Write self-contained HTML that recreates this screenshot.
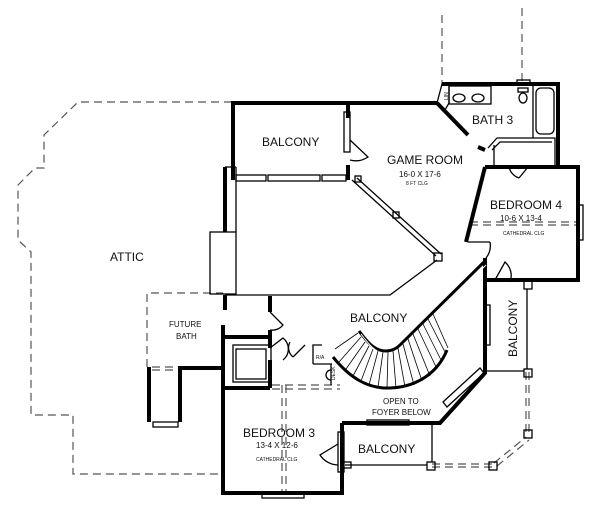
<!DOCTYPE html>
<html><head><style>
html,body{margin:0;padding:0;background:#fff;}
svg{display:block;}
text{font-family:"Liberation Sans",sans-serif;fill:#111;}
</style></head><body>
<svg width="600" height="515" viewBox="0 0 600 515" xmlns="http://www.w3.org/2000/svg">
<g fill="none" stroke="#555" stroke-width="1.2" stroke-dasharray="8,5">
<polyline points="232,102 78,102 44,135 44,168 35,168 18,185 18,240 31,252 31,415 73,415 73,474 223,474"/>
<polyline points="147,367 147,293 223,293"/>
<line x1="442" y1="15" x2="442" y2="84"/>
<line x1="522" y1="8" x2="522" y2="82"/>
<line x1="152" y1="367" x2="178" y2="367"/>
<line x1="152" y1="370" x2="178" y2="370"/>
<line x1="282" y1="385" x2="282" y2="493"/>
<line x1="286" y1="385" x2="286" y2="493"/>
<line x1="272" y1="385" x2="340" y2="385"/>
<line x1="272" y1="389" x2="340" y2="389"/>
<line x1="470" y1="222" x2="578" y2="222"/>
<line x1="470" y1="225" x2="578" y2="225"/>
<line x1="432" y1="464" x2="492" y2="464"/>
<line x1="432" y1="467" x2="492" y2="467"/>
<line x1="526" y1="372" x2="526" y2="432"/>
<line x1="529" y1="372" x2="529" y2="432"/>
<line x1="494" y1="463" x2="526" y2="437"/>
<line x1="497" y1="466" x2="529" y2="440"/>
</g>
<g fill="none" stroke="#000" stroke-width="4" stroke-linejoin="miter">
<polyline points="233,180 233,103 437,103"/>
<line x1="348" y1="103" x2="348" y2="118"/>
<line x1="348" y1="165" x2="348" y2="180"/>
<polyline points="442,84 558,84 558,167"/>
<polyline points="437,103 468,135"/>
<polyline points="478,147 485,150"/>
<polyline points="485,167 578,167 578,280 490,280"/>
<polyline points="485,167 466,242"/>
<polyline points="225,167 225,232"/>
<polyline points="225,295 225,310"/>
<polyline points="223,325 223,493 342,493 342,423"/>
<polyline points="342,423 440,423 485,373 485,258"/>
<polyline points="223,337 270,337"/>
<polyline points="223,388 270,388"/>
<polyline points="270,296 270,312"/>
<polyline points="270,330 270,348"/>
<polyline points="270,360 270,388"/>
<polyline points="149,422 149,367"/>
<polyline points="180,422 180,368 223,368"/>
<line x1="485" y1="280" x2="490" y2="280"/>
</g>
<path d="M333,357 C350,378 368,389 390,388 C418,387 438,372 447,350" fill="none" stroke="#000" stroke-width="3"/>
<path d="M359,331 C368,343 375,351 386,351 C392,351 396,349 400,345 L484,262" fill="none" stroke="#000" stroke-width="3"/>
<path d="M361,334 C370,346 377,354 388,354 C394,354 398,352 402,348 L486,265" fill="none" stroke="#fff" stroke-width="1"/>
<g stroke="#000" stroke-width="0.8">
<line x1="358" y1="333" x2="335" y2="349"/>
<line x1="361" y1="337" x2="339" y2="362"/><line x1="365" y1="342" x2="346" y2="369"/>
<line x1="369" y1="346" x2="353" y2="376"/><line x1="373" y1="349" x2="361" y2="381"/>
<line x1="378" y1="351" x2="369" y2="385"/><line x1="383" y1="352" x2="378" y2="387"/>
<line x1="388" y1="352" x2="387" y2="388"/><line x1="393" y1="351" x2="396" y2="388"/>
<line x1="398" y1="348" x2="405" y2="387"/><line x1="403" y1="344" x2="414" y2="385"/>
<line x1="408" y1="339" x2="422" y2="381"/><line x1="413" y1="334" x2="430" y2="376"/>
<line x1="418" y1="329" x2="437" y2="369"/><line x1="423" y1="324" x2="442" y2="362"/>
<line x1="428" y1="319" x2="446" y2="354"/><line x1="433" y1="314" x2="448" y2="348"/>
</g>
<g fill="none" stroke="#000" stroke-width="1.3">
<polygon points="437,103 442,84 449,84 449,103 445,110"/>
<rect x="449" y="86" width="42" height="18"/>
<ellipse cx="459" cy="98" rx="6" ry="4"/><ellipse cx="478" cy="98" rx="6" ry="4"/>
<rect x="517" y="80" width="13" height="5"/>
<rect x="518" y="88" width="10" height="4"/><ellipse cx="523" cy="98" rx="4" ry="5"/>
<rect x="536" y="88" width="18" height="46" rx="5"/>
<line x1="533" y1="86" x2="533" y2="138"/>
<polyline points="488,148 497,138 555,138 555,167"/>
<polyline points="492,150 500,142 552,142"/>
<line x1="494" y1="145" x2="494" y2="167"/>
<rect x="344" y="112" width="6" height="40"/>
<path d="M350,140 L368,157 A22,22 0 0 1 350,160"/>
<rect x="236" y="175" width="30" height="6"/><rect x="268" y="175" width="52" height="6"/><rect x="322" y="175" width="24" height="6"/>
<rect x="210" y="232" width="26" height="62"/>
<polyline points="236,167 236,232"/><polyline points="225,167 236,167"/>
<line x1="352" y1="180" x2="436" y2="256"/><line x1="357" y1="178" x2="441" y2="254"/>
<rect x="355" y="176" width="6" height="6"/><rect x="393" y="212" width="6" height="6"/><rect x="434" y="253" width="8" height="8"/>
<polyline points="437,260 390,295 225,295"/>
<rect x="578" y="205" width="5" height="35"/>
<path d="M519,178 L528,167 M519,178 A15,15 0 0 1 509,167"/>
<path d="M468,242 L490,242 M490,242 A20,20 0 0 1 486,258"/>
<path d="M495,280 L505,262 A18,18 0 0 1 510,282"/>
<rect x="484" y="305" width="6" height="40"/>
<rect x="524" y="281" width="8" height="8"/><rect x="524" y="369" width="8" height="8"/>
<rect x="524" y="430" width="8" height="8"/><rect x="489" y="462" width="8" height="8"/>
<rect x="427" y="462" width="8" height="8"/>
<line x1="527" y1="289" x2="527" y2="369"/><line x1="487" y1="371" x2="524" y2="371"/>
<line x1="432" y1="423" x2="432" y2="462"/><line x1="345" y1="465" x2="427" y2="465"/>
<rect x="343" y="462" width="8" height="6"/>
<rect x="367" y="420" width="42" height="5"/>
<polygon points="443,402 480,368 484,373 447,407"/>
<rect x="338" y="432" width="6" height="40"/>
<path d="M338,444 L320,455 A22,22 0 0 0 338,465"/>
<rect x="262" y="493" width="42" height="5"/>
<rect x="153" y="422" width="25" height="5"/>
<rect x="233" y="345" width="38" height="37"/>
<rect x="236" y="349" width="30" height="30"/>
<path d="M270,312 L283,325 A14,14 0 0 1 270,330"/>
<path d="M270,348 L283,338 A14,14 0 0 1 283,360"/>
<path d="M293,357 L305,345 M293,357 A12,12 0 0 1 290,342"/>
<polyline points="313,364 313,345 322,345"/>
<line x1="313" y1="364" x2="332" y2="364"/>
<line x1="331" y1="364" x2="331" y2="385"/>
<path d="M331,370 A5,5 0 0 0 331,380"/>
</g>
<g>
<text x="262" y="146" font-size="12">BALCONY</text>
<text x="387" y="164" font-size="12">GAME ROOM</text>
<text x="399" y="177" font-size="8">16-0 X 17-6</text>
<text x="406" y="185" font-size="5">8 FT CLG</text>
<text x="472" y="124" font-size="12">BATH 3</text>
<text x="490" y="209" font-size="12">BEDROOM 4</text>
<text x="500" y="221" font-size="8">10-6 X 13-4</text>
<text x="503" y="235" font-size="5">CATHEDRAL CLG</text>
<text x="110" y="261" font-size="12">ATTIC</text>
<text x="169" y="327" font-size="8">FUTURE</text>
<text x="176" y="339" font-size="8">BATH</text>
<text x="350" y="322" font-size="12">BALCONY</text>
<text x="383" y="404" font-size="8">OPEN TO</text>
<text x="372" y="415" font-size="8">FOYER BELOW</text>
<text x="243" y="437" font-size="12">BEDROOM 3</text>
<text x="256" y="448" font-size="8">13-4 X 12-6</text>
<text x="256" y="461" font-size="5">CATHEDRAL CLG</text>
<text x="358" y="453" font-size="12">BALCONY</text>
<text x="316" y="359" font-size="5">R/A</text>
<text transform="translate(517,357) rotate(-90)" font-size="12">BALCONY</text>
<text transform="translate(335,380) rotate(-90)" font-size="5">DESK</text>
<text transform="translate(448,100) rotate(-90)" font-size="5">LIN</text>
</g>
</svg>
</body></html>
